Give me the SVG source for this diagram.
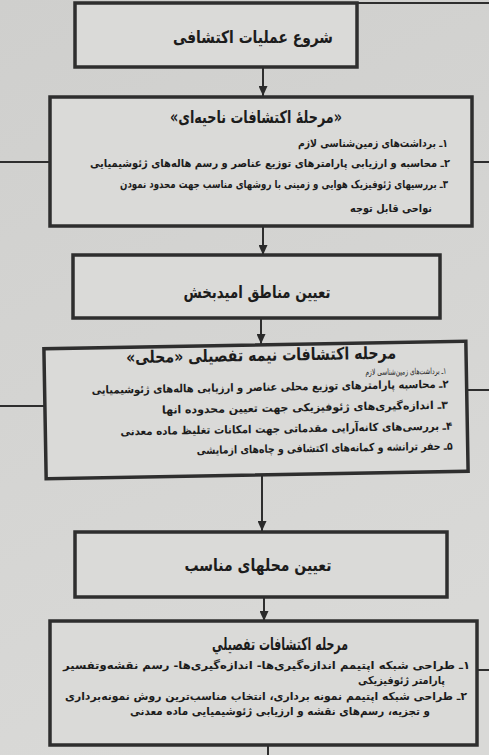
<svg xmlns="http://www.w3.org/2000/svg" width="489" height="755" viewBox="0 0 489 755">
  <defs>
    <linearGradient id="paper" x1="0" y1="0" x2="0.3" y2="1">
      <stop offset="0" stop-color="#cfcfcd"/>
      <stop offset="1" stop-color="#d9d9d7"/>
    </linearGradient>
    <marker id="arr" markerUnits="userSpaceOnUse" markerWidth="10" markerHeight="9" refX="10" refY="4.5" orient="auto">
      <path d="M0,0 L10,4.5 L0,9 z" fill="#2a2a2a"/>
    </marker>
    <style>
      .box { fill: #dadad8; stroke: #2e2e2e; stroke-width: 3.5; }
      .ln { fill: none; stroke: #2e2e2e; stroke-width: 2; }
      .t { font-family: "DejaVu Sans", sans-serif; fill: #1c1c1c; direction: rtl; }
      .c { text-anchor: middle; }
      .r { text-anchor: start; }
      .h { font-size: 17px; font-weight: bold; }
      .it { font-size: 11px; font-weight: bold; }
      .sm { font-size: 8.5px; }
    </style>
  </defs>
  <rect x="0" y="0" width="489" height="755" fill="url(#paper)"/>

  <g id="connectors">
    <line class="ln" x1="357" y1="3" x2="489" y2="3"/>
    <line class="ln" x1="263" y1="67" x2="263" y2="96" marker-end="url(#arr)"/>
    <line class="ln" x1="0" y1="162" x2="50" y2="162"/>
    <line class="ln" x1="472" y1="162" x2="489" y2="162"/>
    <line class="ln" x1="263" y1="226" x2="263" y2="255" marker-end="url(#arr)"/>
    <line class="ln" x1="261" y1="319" x2="261" y2="344" marker-end="url(#arr)"/>
    <line class="ln" x1="0" y1="406" x2="46" y2="406"/>
    <line class="ln" x1="466" y1="390" x2="489" y2="390"/>
    <line class="ln" x1="262" y1="474" x2="262" y2="531" marker-end="url(#arr)"/>
    <line class="ln" x1="264" y1="598" x2="264" y2="621" marker-end="url(#arr)"/>
    <line class="ln" x1="477" y1="670" x2="489" y2="670"/>
    <line class="ln" x1="268" y1="745" x2="268" y2="755"/>
  </g>

  <g id="start">
    <rect class="box" x="75" y="3" width="282" height="64"/>
    <text class="t c h" x="253" y="43" textLength="160" lengthAdjust="spacingAndGlyphs">شروع عملیات اکتشافی</text>
  </g>

  <g id="regional">
    <rect class="box" x="50" y="97" width="422" height="129"/>
    <text class="t c h" x="256" y="123" textLength="172" lengthAdjust="spacingAndGlyphs">«مرحلهٔ اکتشافات ناحیه‌ای»</text>
    <text class="t r it" x="448" y="147" textLength="150" lengthAdjust="spacingAndGlyphs">۱ـ برداشت‌های زمین‌شناسی لازم</text>
    <text class="t r it" x="450" y="167" textLength="360" lengthAdjust="spacingAndGlyphs">۲ـ محاسبه و ارزیابی پارامترهای توزیع عناصر و رسم هاله‌های ژئوشیمیایی</text>
    <text class="t r it" x="448" y="188" font-size="10" textLength="328" lengthAdjust="spacingAndGlyphs">۳ـ بررسیهای ژئوفیزیک هوایی و زمینی با روشهای مناسب جهت محدود نمودن</text>
    <text class="t r it" x="432" y="212" textLength="82" lengthAdjust="spacingAndGlyphs">نواحی قابل توجه</text>
  </g>

  <g id="promising">
    <rect class="box" x="73" y="255" width="367" height="63"/>
    <text class="t c h" x="257" y="298" textLength="147" lengthAdjust="spacingAndGlyphs">تعیین مناطق امیدبخش</text>
  </g>

  <g id="semidetailed" transform="rotate(-1 256 410)">
    <rect class="box" x="45" y="345" width="422" height="130"/>
    <text class="t c h" x="262" y="361" font-size="18" textLength="270" lengthAdjust="spacingAndGlyphs">مرحله اکتشافات نیمه تفصیلی «محلی»</text>
    <text class="t r sm" x="447" y="377" textLength="81" lengthAdjust="spacingAndGlyphs">۱ـ برداشت‌های زمین‌شناسی لازم</text>
    <text class="t r it" x="449" y="391" textLength="357" lengthAdjust="spacingAndGlyphs">۲ـ محاسبه پارامترهای توزیع محلی عناصر و ارزیابی هاله‌های ژئوشیمیایی</text>
    <text class="t r it" x="448" y="412" textLength="286" lengthAdjust="spacingAndGlyphs">۳ـ اندازه‌گیری‌های ژئوفیزیکی جهت تعیین محدوده انها</text>
    <text class="t r it" x="452" y="433" textLength="332" lengthAdjust="spacingAndGlyphs">۴ـ بررسی‌های کانه‌آرایی مقدماتی جهت امکانات تغلیظ ماده معدنی</text>
    <text class="t r it" x="452" y="453" font-size="10" textLength="256" lengthAdjust="spacingAndGlyphs">۵ـ حفر ترانشه و کمانه‌های اکتشافی و چاه‌های ازمایشی</text>
  </g>

  <g id="sites">
    <rect class="box" x="75" y="532" width="372" height="65"/>
    <text class="t c h" x="258" y="571" textLength="147" lengthAdjust="spacingAndGlyphs">تعیین محلهای مناسب</text>
  </g>

  <g id="detailed">
    <rect class="box" x="50" y="621" width="427" height="124"/>
    <text class="t c h" x="280" y="650" font-size="18" textLength="136" lengthAdjust="spacingAndGlyphs">مرحله اکتشافات تفصیلي</text>
    <text class="t r it" x="470" y="669" textLength="407" lengthAdjust="spacingAndGlyphs">۱ـ طراحی شبکه اپتیمم اندازه‌گیری‌ها- اندازه‌گیری‌ها- رسم نقشه‌وتفسیر</text>
    <text class="t r it" x="445" y="684" textLength="87" lengthAdjust="spacingAndGlyphs">پارامتر ژئوفیزیکی</text>
    <text class="t r it" x="467" y="700" textLength="402" lengthAdjust="spacingAndGlyphs">۲ـ طراحی شبکه اپتیمم نمونه برداری، انتخاب مناسب‌ترین روش نمونه‌برداری</text>
    <text class="t r it" x="430" y="715" textLength="300" lengthAdjust="spacingAndGlyphs">و تجزیه، رسم‌های نقشه و ارزیابی ژئوشیمیایی ماده معدنی</text>
  </g>
</svg>
